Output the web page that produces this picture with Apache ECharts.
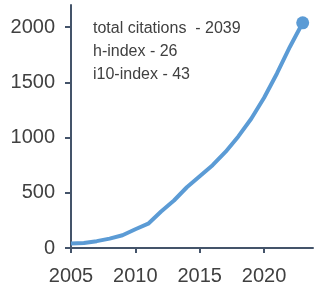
<!DOCTYPE html>
<html>
<head>
<meta charset="utf-8">
<script src="https://cdn.jsdelivr.net/npm/echarts@6/dist/echarts.min.js"></script>
<style>
  html, body { margin: 0; padding: 0; background: #fff; }
  #chart { width: 314px; height: 287px; }
</style>
</head>
<body>
<div id="chart"></div>
<script>
  // cumulative citations per year
  var years = [2005, 2006, 2007, 2008, 2009, 2010, 2011, 2012, 2013, 2014,
               2015, 2016, 2017, 2018, 2019, 2020, 2021, 2022, 2023];
  var citations = [40, 45, 62, 85, 115, 170, 220, 330, 430, 550,
                   650, 750, 870, 1010, 1170, 1360, 1580, 1820, 2039];
  var yTicks = [0, 500, 1000, 1500, 2000];
  var xTicks = [2005, 2010, 2015, 2020];
  var infoLines = ['total citations  - 2039', 'h-index - 26', 'i10-index - 43'];

  var axisColor = '#44546a';
  var textColor = '#404040';

  var pts = years.map(function (y, i) {
    var item = { value: [y, citations[i]] };
    if (i === years.length - 1) {
      item.symbol = 'circle';
      item.symbolSize = 13;
    }
    return item;
  });

  var myChart = echarts.init(document.getElementById('chart'));
  myChart.setOption({
    animation: false,
    grid: { left: 71, right: 1, top: 5, bottom: 39 },
    xAxis: {
      type: 'value',
      min: 2005,
      max: 2023.8,
      interval: 5,
      splitLine: { show: false },
      axisLine: { lineStyle: { color: axisColor, width: 2 } },
      axisTick: { show: true, length: 5, lineStyle: { color: axisColor, width: 2 } },
      axisLabel: {
        margin: 18,
        color: textColor,
        fontSize: 20,
        fontFamily: 'Liberation Sans',
        showMaxLabel: false,
        formatter: function (v) { return xTicks.indexOf(v) >= 0 ? String(v) : ''; }
      }
    },
    yAxis: {
      type: 'value',
      min: 0,
      max: 2200,
      interval: 500,
      splitLine: { show: false },
      axisLine: { show: true, lineStyle: { color: axisColor, width: 2 } },
      axisTick: { show: true, length: 6, lineStyle: { color: axisColor, width: 2 } },
      axisLabel: {
        margin: 16,
        color: textColor,
        fontSize: 20,
        fontFamily: 'Liberation Sans',
        showMaxLabel: false,
        formatter: function (v) { return yTicks.indexOf(v) >= 0 ? String(v) : ''; }
      }
    },
    graphic: [{
      type: 'text',
      left: 93,
      top: 17,
      style: {
        text: infoLines.join('\n'),
        fill: textColor,
        font: '16px "Liberation Sans"',
        lineHeight: 23
      }
    }],
    series: [{
      type: 'line',
      data: pts,
      symbol: 'none',
      lineStyle: { color: '#5b9bd5', width: 4 },
      itemStyle: { color: '#5b9bd5' }
    }]
  });
</script>
</body>
</html>
